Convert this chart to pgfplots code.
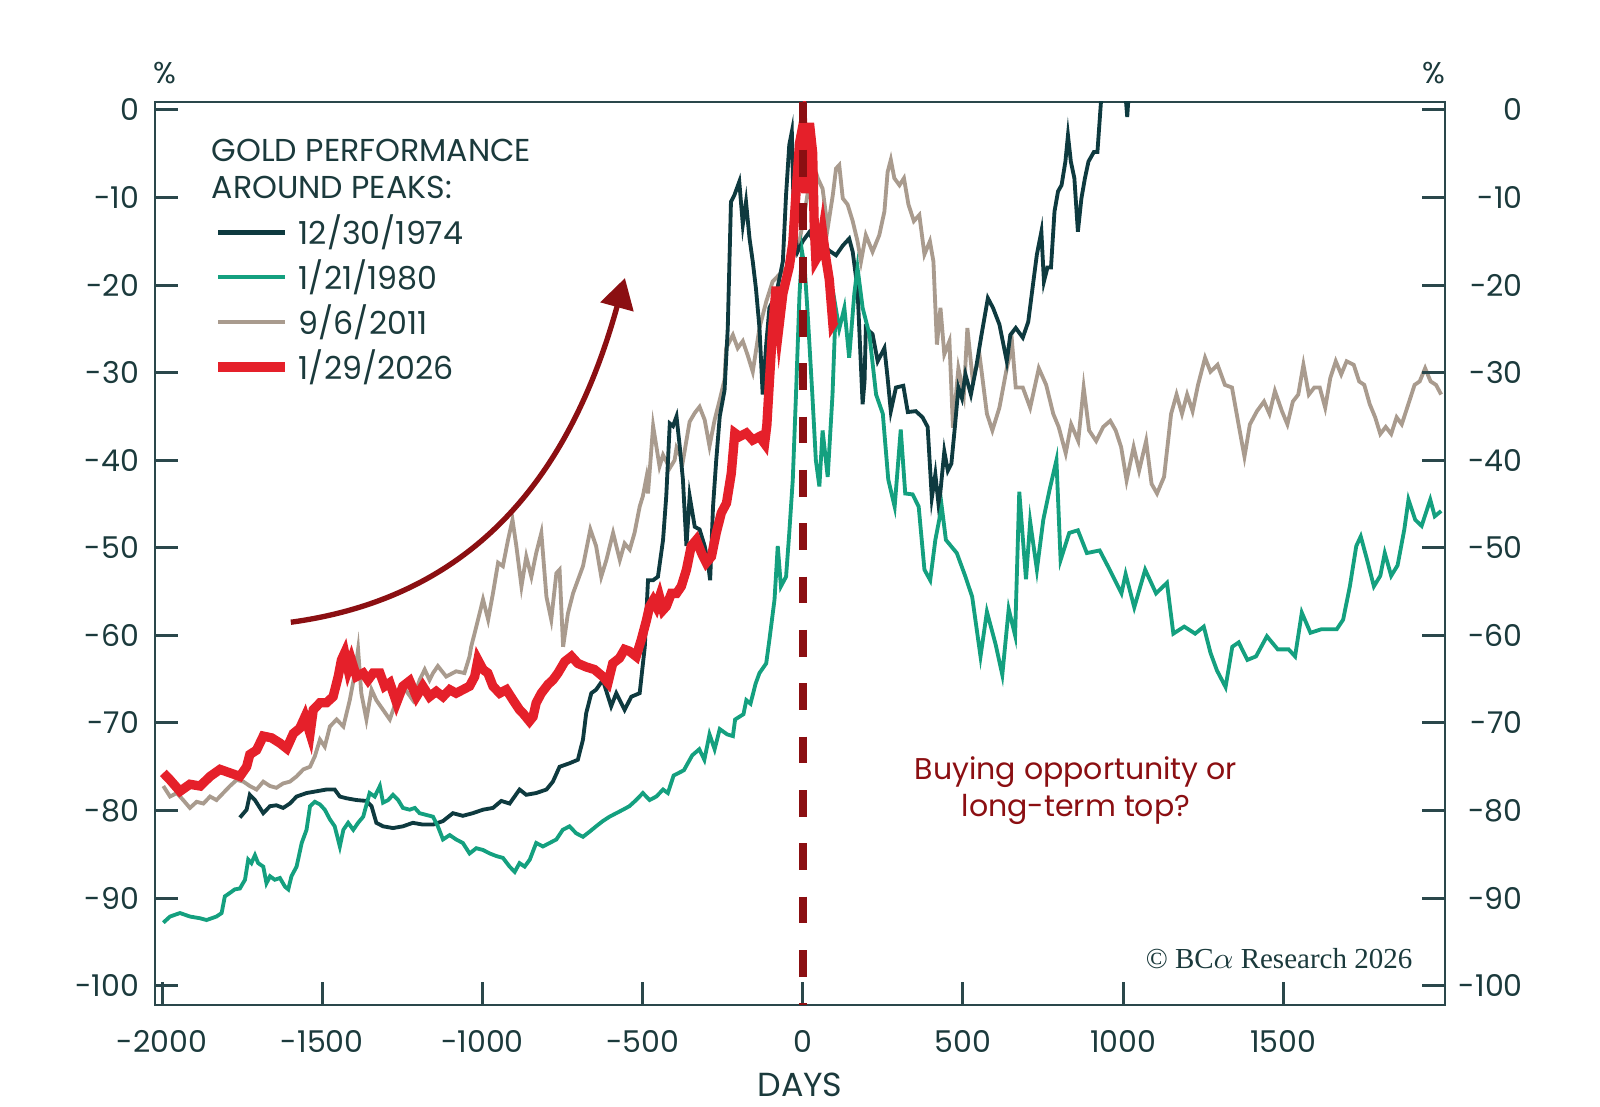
\documentclass[border=0pt]{standalone}
\usepackage{pgfplots}
\usepackage{pgfplotstable}
\pgfplotsset{compat=1.18}
\usetikzlibrary{arrows.meta}
\usepackage{fontspec}
\setmainfont{Poppins}
\newfontfamily\serifcr{Liberation Serif}
\definecolor{axiscol}{HTML}{2A474B}
\definecolor{textcol}{HTML}{1B3A3C}
\definecolor{cdark}{HTML}{0E3A3F}
\definecolor{cgreen}{HTML}{14A07F}
\definecolor{cbeige}{HTML}{A99B8E}
\definecolor{cred}{HTML}{E5202A}
\definecolor{cdarkred}{HTML}{8B0F12}

\pgfplotstableread{
d v
-1757 -80.8
-1736 -79.9
-1726 -78.2
-1710 -78.8
-1684 -80.3
-1663 -79.5
-1643 -79.4
-1622 -79.7
-1601 -79.2
-1580 -78.4
-1549 -78.0
-1518 -77.8
-1487 -77.6
-1461 -77.6
-1445 -78.4
-1424 -78.6
-1393 -78.8
-1362 -78.9
-1346 -79.5
-1331 -81.4
-1310 -81.8
-1279 -82.0
-1248 -81.8
-1217 -81.4
-1186 -81.6
-1154 -81.6
-1123 -81.2
-1092 -80.3
-1061 -80.6
-1030 -80.3
-998 -79.9
-967 -79.7
-941 -78.9
-915 -79.2
-884 -77.6
-863 -78.2
-832 -78.0
-800 -77.6
-780 -76.7
-759 -75.0
-728 -74.6
-702 -74.2
-686 -71.9
-676 -68.9
-660 -66.6
-645 -66.2
-624 -65.1
-598 -68.1
-582 -66.6
-556 -68.5
-535 -67.0
-509 -66.6
-493 -61.3
-483 -53.7
-467 -53.7
-452 -53.3
-436 -49.1
-426 -44.1
-415 -35.8
-405 -36.1
-394 -35.0
-384 -38.4
-374 -42.2
-363 -49.8
-353 -44.1
-337 -47.6
-322 -47.9
-306 -49.8
-296 -51.7
-289 -53.7
-280 -45.3
-270 -40.0
-259 -35.0
-244 -32.0
-234 -24.9
-224 -10.5
-213 -9.7
-198 -8.2
-187 -13.1
-177 -10.5
-166 -14.7
-156 -17.3
-146 -20.4
-135 -24.9
-125 -32.5
-114 -26.8
-104 -22.6
-83 -21.1
-62 -17.3
-52 -9.7
-42 -4.0
-34 -2.5
-27 -13.5
-16 -16.2
0 -15.0
20 -14.0
40 -15.5
60 -15.0
80 -16.0
104 -16.6
125 -15.5
145 -14.7
156 -16.2
171 -20.4
187 -33.6
193 -31.0
197 -24.9
218 -25.6
234 -28.7
255 -27.2
265 -30.6
275 -34.4
291 -31.7
314 -31.5
328 -34.5
353 -34.4
374 -35.1
390 -36.2
403 -44.3
414 -41.6
425 -45.4
442 -39.0
453 -41.2
464 -40.4
475 -36.2
486 -31.7
497 -32.9
508 -30.2
525 -32.5
541 -29.5
558 -25.7
578 -21.5
594 -22.6
614 -24.5
637 -28.7
648 -25.7
665 -24.9
687 -26.0
704 -24.2
720 -19.6
731 -16.5
745 -13.9
753 -19.6
764 -18.0
775 -18.0
786 -11.6
797 -9.3
808 -8.6
820 -5.9
828 -2.9
837 -5.9
848 -7.8
859 -13.9
870 -10.1
881 -7.8
892 -5.9
909 -4.8
920 -4.8
931 0.9
950 4.0
990 5.0
1008 1.5
1013 -0.8
1018 2.0
1030 5.0
}\tabdark

\pgfplotstableread{
d v
-1996 -92.8
-1975 -92.1
-1944 -91.7
-1913 -92.1
-1881 -92.3
-1861 -92.5
-1830 -92.1
-1814 -91.7
-1804 -89.8
-1788 -89.4
-1773 -89.0
-1757 -88.9
-1741 -87.9
-1731 -85.6
-1721 -86.0
-1710 -85.1
-1700 -86.0
-1684 -86.4
-1674 -88.3
-1663 -87.5
-1648 -87.9
-1632 -87.7
-1616 -88.7
-1606 -89.0
-1596 -87.5
-1580 -86.4
-1564 -83.7
-1549 -82.2
-1538 -79.5
-1523 -79.0
-1507 -79.3
-1492 -79.9
-1476 -81.0
-1461 -81.8
-1445 -84.1
-1434 -82.2
-1419 -81.4
-1403 -82.2
-1388 -81.4
-1372 -80.7
-1352 -78.0
-1336 -78.4
-1320 -77.2
-1310 -79.1
-1294 -78.8
-1279 -78.2
-1263 -78.8
-1248 -79.7
-1227 -79.9
-1211 -79.7
-1196 -80.3
-1175 -80.5
-1154 -80.7
-1139 -81.8
-1123 -83.3
-1102 -82.8
-1082 -83.3
-1061 -83.7
-1040 -84.9
-1019 -84.3
-998 -84.5
-977 -84.9
-956 -85.2
-936 -85.4
-915 -86.4
-899 -87.0
-884 -86.0
-868 -86.4
-852 -85.6
-832 -83.7
-811 -84.1
-790 -83.7
-769 -83.3
-749 -82.2
-728 -81.8
-707 -82.6
-686 -83.0
-665 -82.4
-645 -81.8
-624 -81.2
-603 -80.7
-582 -80.3
-561 -79.9
-541 -79.5
-520 -78.8
-499 -78.0
-478 -78.8
-457 -78.4
-436 -77.6
-421 -78.0
-403 -76.0
-371 -75.4
-345 -73.7
-323 -73.0
-307 -74.2
-291 -71.3
-275 -73.0
-259 -70.7
-236 -71.3
-218 -71.5
-211 -69.6
-185 -69.0
-176 -67.4
-163 -67.8
-147 -65.5
-135 -64.3
-114 -63.2
-104 -60.5
-88 -55.9
-78 -49.8
-68 -54.4
-52 -53.3
-42 -48.3
-31 -42.2
-21 -32.5
-10 -21.0
-2 -16.2
6 -18.0
15 -23.0
30 -32.5
41 -40.0
52 -43.0
62 -36.6
78 -41.9
93 -32.5
103 -22.6
114 -25.0
130 -22.6
145 -28.3
161 -21.0
171 -18.0
187 -22.6
208 -25.6
229 -32.5
250 -34.7
267 -42.2
287 -45.3
306 -36.5
320 -43.8
343 -43.9
362 -45.3
380 -52.5
398 -53.7
414 -49.1
434 -45.3
447 -49.1
481 -50.6
508 -53.3
529 -55.6
555 -62.4
575 -57.3
602 -61.0
623 -64.5
643 -57.0
663 -60.0
676 -43.6
697 -53.6
710 -47.0
731 -52.5
751 -46.8
771 -43.3
792 -40.0
805 -51.4
832 -48.3
859 -48.0
887 -50.6
927 -50.3
954 -52.2
995 -55.2
1008 -53.0
1035 -56.8
1069 -52.5
1103 -55.2
1137 -54.0
1157 -59.8
1191 -59.0
1225 -59.8
1252 -59.0
1273 -62.0
1293 -64.0
1320 -65.9
1341 -61.3
1361 -60.8
1388 -62.8
1415 -62.4
1449 -60.1
1483 -61.6
1517 -61.6
1537 -62.4
1558 -57.4
1585 -59.7
1619 -59.3
1667 -59.3
1687 -58.2
1708 -54.4
1728 -49.8
1742 -48.7
1762 -51.4
1783 -54.4
1803 -53.2
1817 -50.6
1837 -53.2
1857 -52.0
1878 -47.9
1891 -44.5
1912 -46.8
1932 -47.5
1959 -44.5
1973 -46.4
1993 -45.8
}\tabgreen

\pgfplotstableread{
d v
-1996 -77.2
-1975 -78.4
-1954 -78.0
-1934 -78.8
-1913 -79.7
-1892 -79.0
-1871 -79.2
-1850 -78.4
-1830 -78.8
-1809 -78.0
-1788 -77.2
-1767 -76.5
-1746 -76.7
-1726 -77.2
-1705 -77.6
-1684 -76.7
-1663 -77.2
-1643 -77.4
-1622 -76.9
-1601 -76.7
-1580 -76.1
-1559 -75.3
-1538 -75.0
-1523 -73.8
-1507 -71.9
-1492 -72.7
-1476 -70.4
-1455 -69.6
-1434 -70.4
-1414 -67.4
-1398 -64.3
-1388 -61.6
-1378 -66.6
-1362 -69.6
-1346 -66.2
-1331 -67.4
-1310 -68.5
-1289 -69.6
-1268 -67.4
-1248 -65.8
-1217 -67.4
-1196 -65.1
-1180 -63.9
-1165 -65.1
-1154 -64.3
-1139 -63.5
-1113 -64.7
-1082 -64.1
-1056 -64.3
-1040 -62.4
-1035 -61.3
-1019 -59.0
-998 -55.9
-982 -58.2
-967 -55.2
-951 -51.7
-936 -52.1
-920 -49.1
-906 -46.8
-894 -49.8
-878 -54.4
-863 -51.0
-847 -53.3
-832 -50.6
-816 -48.3
-800 -55.6
-785 -58.2
-769 -52.9
-759 -52.5
-748 -61.3
-733 -57.5
-717 -55.2
-702 -53.7
-686 -52.1
-663 -47.9
-645 -49.8
-629 -53.3
-613 -51.4
-592 -48.3
-571 -51.4
-556 -49.5
-540 -50.2
-525 -48.3
-509 -45.3
-499 -44.1
-488 -42.0
-483 -43.8
-467 -36.1
-457 -38.4
-447 -40.7
-436 -39.4
-415 -40.9
-400 -40.0
-394 -38.6
-374 -40.1
-353 -35.6
-337 -34.6
-322 -33.9
-306 -35.4
-291 -38.4
-275 -35.4
-259 -33.1
-244 -30.8
-239 -27.2
-218 -25.7
-203 -27.2
-187 -26.4
-172 -28.0
-156 -29.9
-135 -24.9
-114 -21.9
-94 -19.6
-73 -18.8
-52 -18.1
-31 -16.9
-10 -15.0
10 -10.8
31 -5.9
47 -7.8
62 -9.0
78 -13.5
94 -9.7
104 -6.7
114 -6.3
125 -10.1
140 -10.8
156 -12.7
171 -15.0
182 -17.3
197 -14.3
218 -16.2
239 -14.3
255 -11.6
265 -7.1
275 -5.7
286 -7.8
302 -8.6
316 -7.8
330 -10.8
347 -12.7
364 -12.0
380 -16.5
397 -15.0
408 -17.3
419 -26.8
430 -22.6
442 -27.9
458 -26.4
469 -36.3
486 -29.5
503 -32.5
514 -24.9
530 -30.6
553 -28.3
575 -34.7
592 -36.6
614 -34.0
637 -29.5
654 -26.8
665 -31.7
687 -31.7
710 -34.0
737 -29.5
760 -31.4
782 -34.7
799 -36.2
821 -39.2
838 -35.9
860 -37.8
877 -31.7
894 -36.6
916 -37.8
938 -36.2
960 -35.5
977 -36.6
994 -38.5
1011 -42.3
1033 -38.5
1050 -41.2
1072 -37.8
1089 -42.7
1106 -43.8
1128 -41.9
1150 -34.7
1167 -32.5
1184 -34.7
1200 -32.5
1217 -34.4
1234 -31.4
1256 -28.3
1273 -29.9
1295 -29.1
1318 -31.4
1340 -31.7
1362 -36.2
1379 -39.6
1396 -35.9
1418 -34.4
1440 -33.3
1457 -34.7
1474 -32.1
1496 -34.4
1513 -35.9
1530 -33.3
1547 -32.5
1563 -29.1
1580 -32.5
1597 -31.7
1614 -31.7
1631 -34.0
1647 -30.6
1664 -28.7
1681 -30.2
1698 -28.7
1720 -29.1
1737 -31.0
1753 -31.4
1770 -33.6
1787 -35.1
1803 -37.0
1820 -36.2
1837 -37.0
1854 -35.1
1870 -35.9
1887 -34.0
1910 -31.4
1926 -31.0
1943 -29.5
1960 -31.0
1977 -31.4
1993 -32.5
}\tabbeige

\pgfplotstableread{
d v
-1996 -75.7
-1975 -76.5
-1944 -77.8
-1913 -77.0
-1881 -77.2
-1850 -76.1
-1819 -75.3
-1788 -75.7
-1757 -76.1
-1736 -75.0
-1726 -73.6
-1705 -73.1
-1684 -71.5
-1658 -71.7
-1632 -72.3
-1611 -72.9
-1590 -71.2
-1570 -70.6
-1554 -69.3
-1538 -71.2
-1528 -68.5
-1507 -67.7
-1487 -67.7
-1466 -67.0
-1450 -64.7
-1440 -62.8
-1430 -62.0
-1419 -63.9
-1409 -62.8
-1393 -64.7
-1372 -64.3
-1357 -65.1
-1341 -64.3
-1320 -64.3
-1305 -65.8
-1289 -65.4
-1268 -67.7
-1248 -65.8
-1227 -65.2
-1206 -67.0
-1186 -65.8
-1165 -67.0
-1144 -66.4
-1123 -67.0
-1102 -66.2
-1082 -66.6
-1061 -66.2
-1040 -65.8
-1024 -64.7
-1014 -62.8
-998 -63.9
-983 -64.3
-967 -65.8
-946 -66.6
-925 -66.2
-904 -67.4
-884 -68.5
-873 -68.9
-853 -69.8
-842 -69.3
-832 -67.7
-816 -66.6
-795 -65.6
-780 -65.1
-764 -64.3
-743 -63.0
-722 -62.4
-702 -63.2
-676 -63.6
-650 -63.9
-624 -64.7
-608 -65.4
-593 -63.2
-572 -62.6
-556 -61.6
-541 -61.8
-520 -62.4
-504 -60.5
-488 -58.3
-478 -56.7
-467 -56.0
-457 -56.7
-447 -55.6
-436 -57.1
-426 -56.7
-410 -55.2
-394 -55.2
-379 -54.4
-363 -52.5
-348 -49.8
-332 -49.1
-316 -50.6
-301 -51.7
-285 -51.0
-270 -48.3
-254 -46.0
-238 -44.9
-223 -41.5
-212 -36.9
-197 -37.3
-176 -36.9
-156 -37.7
-135 -37.3
-119 -38.1
-112 -36.0
-104 -31.0
-94 -25.0
-83 -20.2
-73 -24.4
-62 -21.0
-52 -19.4
-42 -17.9
-31 -15.2
-21 -9.5
-10 -3.8
0 -1.9
10 -9.5
21 -1.5
31 -4.9
36 -13.3
41 -17.1
52 -16.4
62 -14.0
73 -17.1
83 -19.4
94 -24.4
99 -24.1
}\tabred

\begin{document}
\begin{tikzpicture}
\useasboundingbox (-46.5pt,-30.6pt) rectangle (433.5pt,301.5pt);
\begin{axis}[
  scale only axis, width=387pt, height=270.9pt,
  xmin=-2022, xmax=2005, ymin=-102.2, ymax=0.9,
  xtick={-2000,-1500,-1000,-500,0,500,1000,1500},
  ytick={-100,-90,-80,-70,-60,-50,-40,-30,-20,-10,0},
  tick align=inside, xtick pos=left, ytick pos=left,
  major tick length=7pt,
  every tick/.style={axiscol, line width=0.9pt},
  axis line style={axiscol, line width=0.8pt},
  ticklabel style={font=\fontsize{9}{10}\selectfont, text=textcol},
  xticklabel style={anchor=north, inner sep=0pt, yshift=-7.4pt},
  yticklabel style={anchor=east, inner sep=0pt, xshift=-4.6pt},
  /pgf/number format/assume math mode=true,
  /pgf/number format/set thousands separator={},
  clip mode=individual,
]
\addplot[cbeige, line width=1.15pt] table[x=d,y=v] {\tabbeige};
\addplot[cdark, line width=1.15pt] table[x=d,y=v] {\tabdark};
\addplot[cgreen, line width=1.15pt] table[x=d,y=v] {\tabgreen};
\addplot[cred, line width=2.8pt] table[x=d,y=v] {\tabred};
\addplot[cdarkred, line width=2.4pt, dash pattern=on 8pt off 8pt, dash phase=1.6pt] coordinates {(0,0.9) (0,-102.2)};

\draw[cdarkred, line width=1.6pt, -{Triangle[length=9pt,width=10pt]}]
  (axis cs:-1598,-58.5) .. controls (axis cs:-1100,-56) and (axis cs:-750,-45) .. (axis cs:-555,-19.2);

\node[anchor=west, text=textcol, font=\fontsize{9.5}{10}\selectfont, inner sep=0pt] at (axis cs:-1847,-4.66) {GOLD PERFORMANCE};
\node[anchor=west, text=textcol, font=\fontsize{9.5}{10}\selectfont, inner sep=0pt] at (axis cs:-1847,-8.86) {AROUND PEAKS:};
\draw[cdark, line width=1.3pt] (axis cs:-1824,-14.0) -- (axis cs:-1617,-14.0);
\draw[cgreen, line width=1.3pt] (axis cs:-1824,-19.1) -- (axis cs:-1617,-19.1);
\draw[cbeige, line width=1.3pt] (axis cs:-1824,-24.2) -- (axis cs:-1617,-24.2);
\draw[cred, line width=3pt] (axis cs:-1824,-29.4) -- (axis cs:-1617,-29.4);
\node[anchor=west, text=textcol, font=\fontsize{9.5}{10}\selectfont, inner sep=0pt] at (axis cs:-1575,-14.0) {12/30/1974};
\node[anchor=west, text=textcol, font=\fontsize{9.5}{10}\selectfont, inner sep=0pt] at (axis cs:-1575,-19.1) {1/21/1980};
\node[anchor=west, text=textcol, font=\fontsize{9.5}{10}\selectfont, inner sep=0pt] at (axis cs:-1575,-24.2) {9/6/2011};
\node[anchor=west, text=textcol, font=\fontsize{9.5}{10}\selectfont, inner sep=0pt] at (axis cs:-1575,-29.4) {1/29/2026};

\node[align=center, text=cdarkred, font=\fontsize{9}{11}\selectfont] at (axis cs:853,-77.7) {Buying opportunity or\\long-term top?};
\node[anchor=east, text=textcol, font=\serifcr\fontsize{8.7}{10}\selectfont, inner sep=0pt] at (axis cs:1905,-96.9) {\textcopyright\ BC$\alpha$ Research 2026};

\node[text=textcol, font=\fontsize{9}{10}\selectfont, inner sep=0pt] at ([xshift=3pt,yshift=8.6pt]rel axis cs:0,1) {\%};
\node[text=textcol, font=\fontsize{9}{10}\selectfont, inner sep=0pt] at ([xshift=-3.2pt,yshift=8.6pt]rel axis cs:1,1) {\%};
\node[text=textcol, font=\fontsize{10}{12}\selectfont, inner sep=0pt] at ([yshift=-24pt]rel axis cs:0.5,0) {DAYS};
\end{axis}
\begin{axis}[
  scale only axis, width=387pt, height=270.9pt,
  xmin=-2022, xmax=2005, ymin=-102.2, ymax=0.9,
  axis x line=none, axis y line*=right,
  ytick={-100,-90,-80,-70,-60,-50,-40,-30,-20,-10,0},
  tick align=inside, major tick length=7pt,
  every tick/.style={axiscol, line width=0.9pt},
  axis line style={axiscol, line width=0.8pt},
  ticklabel style={font=\fontsize{9}{10}\selectfont, text=textcol},
  yticklabel style={anchor=east, inner sep=0pt, xshift=23.5pt},
  /pgf/number format/assume math mode=true,
]
\end{axis}
\end{tikzpicture}
\end{document}
